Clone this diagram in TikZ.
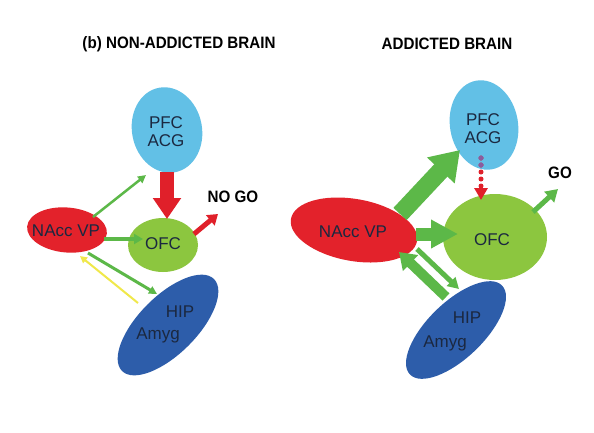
\documentclass[tikz,border=0pt]{standalone}
\usepackage{fontspec}
\setmainfont{Liberation Sans}
\newfontfamily\narrowfont{Liberation Sans}[FakeStretch=0.92]
\usetikzlibrary{arrows.meta,shapes.geometric}
\definecolor{nacred}{HTML}{E3222B}
\definecolor{pfcblue}{HTML}{62C0E6}
\definecolor{ofcgreen}{HTML}{8CC63F}
\definecolor{hipblue}{HTML}{2D5DAA}
\definecolor{argreen}{HTML}{5CB848}
\definecolor{arred}{HTML}{E0202A}
\definecolor{aryellow}{HTML}{F0E84A}
\definecolor{dotpurple}{HTML}{8A5C9E}
\definecolor{labeltext}{HTML}{1B2840}
\begin{document}
\begin{tikzpicture}[x=1pt,y=-1pt,
  region/.style={ellipse,draw=none,inner sep=0pt,outer sep=0pt},
  lbl/.style={text=labeltext,font=\fontsize{17}{18}\selectfont,inner sep=0pt,align=center},
  ttl/.style={font=\narrowfont\bfseries\fontsize{16.5}{18}\selectfont,inner sep=0pt,text=black},
  arw/.style n args={3}{line width=#1pt,-{Triangle[width=#2pt,length=#3pt]}}
]
\fill[white] (0,0) rectangle (594,432);
\useasboundingbox (0,0) rectangle (594,432);

% titles
\node[ttl] (t1) at (179,44) {(b) NON-ADDICTED BRAIN};
\node[ttl] (t2) at (447,44) {ADDICTED BRAIN};

% ---------------- left panel ----------------
\node[region,fill=pfcblue,minimum width=70pt,minimum height=86pt,rotate=11] (pfcL) at (167,130) {};
\node[region,fill=ofcgreen,minimum width=70pt,minimum height=54pt] (ofcL) at (163,245) {};
\node[region,fill=nacred,minimum width=80pt,minimum height=45pt,rotate=-5] (nacL) at (67,230) {};
\node[region,fill=hipblue,minimum width=130pt,minimum height=58pt,rotate=45] (hipL) at (168,325) {};

\node[lbl] (pfcLt) at (166,132) {PFC\\ACG};
\node[lbl] (ofcLt) at (163,244) {OFC};
\node[lbl] (nacLt) at (66,231) {NAcc VP};
\node[lbl] (hipLt1) at (180,312) {HIP};
\node[lbl] (hipLt2) at (158,335) {Amyg};
\node[ttl] (nogo) at (233,197) {NO GO};

\coordinate (a1s) at (167,172); \coordinate (a1e) at (167,219);
\coordinate (a2s) at (194,234); \coordinate (a2e) at (218,214);
\coordinate (a3s) at (104,239); \coordinate (a3e) at (143,239);
\coordinate (a4s) at (93,217);  \coordinate (a4e) at (146,175);
\coordinate (a5s) at (88,253);  \coordinate (a5e) at (157,294);
\coordinate (a6s) at (138,303); \coordinate (a6e) at (80,256);

\draw[arw={14}{27}{21},arred] (a1s) -- (a1e);
\draw[arw={5}{13}{10},arred] (a2s) -- (a2e);
\draw[arw={4}{10}{9},argreen] (a3s) -- (a3e);
\draw[arw={2.5}{8}{8},argreen] (a4s) -- (a4e);
\draw[arw={3}{8}{8},argreen] (a5s) -- (a5e);
\draw[arw={2}{7}{7},aryellow] (a6s) -- (a6e);

% ---------------- right panel ----------------
\node[region,fill=pfcblue,minimum width=68pt,minimum height=90pt,rotate=10] (pfcR) at (484,125) {};
\node[region,fill=ofcgreen,minimum width=104pt,minimum height=86pt] (ofcR) at (495,237) {};
\node[region,fill=nacred,minimum width=128pt,minimum height=62pt,rotate=-10] (nacR) at (354,230) {};
\node[region,fill=hipblue,minimum width=128pt,minimum height=56pt,rotate=44] (hipR) at (456,330) {};

\node[lbl] (pfcRt) at (483,129) {PFC\\ACG};
\node[lbl] (ofcRt) at (492,240) {OFC};
\node[lbl] (nacRt) at (353,232) {NAcc VP};
\node[lbl] (hipRt1) at (467,318) {HIP};
\node[lbl] (hipRt2) at (445,343) {Amyg};
\node[ttl] (go) at (560,173) {GO};

\coordinate (b1s) at (400,214); \coordinate (b1e) at (460,150);
\coordinate (b2s) at (481,158); \coordinate (b2m) at (481,168); \coordinate (b2e) at (481,200);
\coordinate (b3s) at (416,234); \coordinate (b3e) at (458,234);
\coordinate (b4s) at (533,212); \coordinate (b4e) at (558,189);
\coordinate (b5s) at (446,297); \coordinate (b5e) at (399,252);
\coordinate (b6s) at (417,249); \coordinate (b6e) at (459,289);

\draw[arw={18}{36}{28},argreen] (b1s) -- (b1e);
\draw[arred,line width=5pt,line cap=round,dash pattern=on 0pt off 7pt,-{Triangle[width=13pt,length=12pt]}] (b2s) -- (b2e);
\draw[dotpurple,line width=5pt,line cap=round,dash pattern=on 0pt off 7pt] (b2s) -- (b2m);
\draw[arw={13}{27}{27},argreen] (b3s) -- (b3e);
\draw[arw={5}{14}{12},argreen] (b4s) -- (b4e);
\draw[arw={10}{21}{16},argreen] (b5s) -- (b5e);
\draw[arw={5}{12}{11},argreen] (b6s) -- (b6e);
\end{tikzpicture}
\end{document}
